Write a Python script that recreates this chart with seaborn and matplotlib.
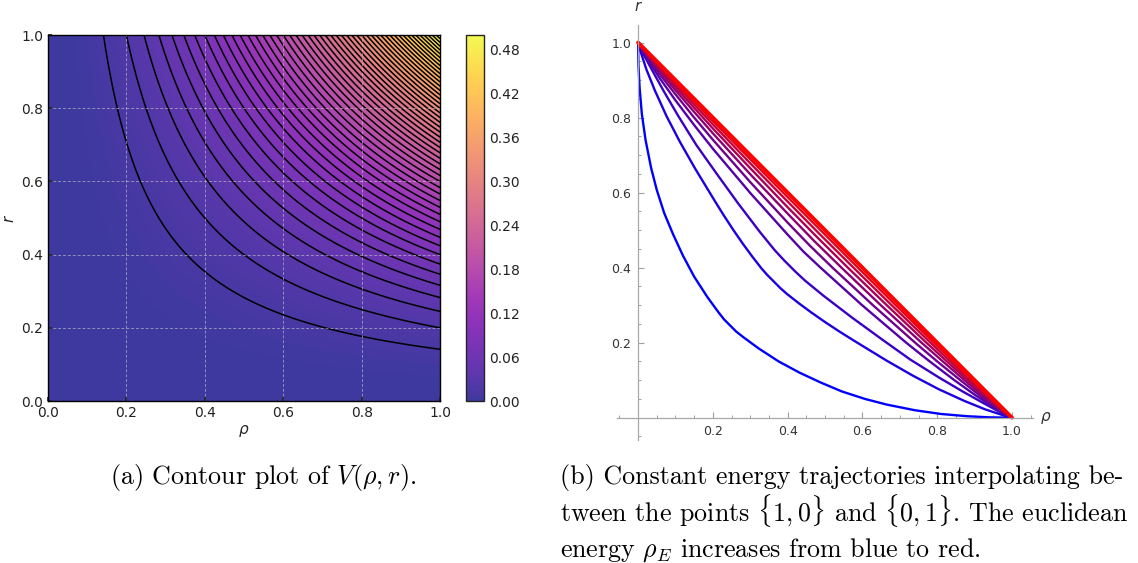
import numpy as np
import pandas as pd
import matplotlib
matplotlib.use('Agg')
import matplotlib.pyplot as plt
from matplotlib.colors import ListedColormap
import seaborn as sns

sns.set_theme(style='ticks')
plt.rcParams['font.family'] = ['DejaVu Sans']
plt.rcParams['mathtext.fontset'] = 'dejavusans'

# (a) potential V(rho, r) on the unit square
rho_axis = np.linspace(0, 1, 401)
r_axis = np.linspace(0, 1, 401)
fill_levels = np.linspace(0, 0.5, 201)
line_levels = np.arange(0.01, 0.495, 0.01)
cbar_ticks = [0.00, 0.06, 0.12, 0.18, 0.24, 0.30, 0.36, 0.42, 0.48]
grid_ticks = [0.0, 0.2, 0.4, 0.6, 0.8, 1.0]

# (b) constant energy trajectories, read off the picture from {0,1}
# down to where each one crosses rho = r (the curves are symmetric)
traj1_rho = [0, 0.001, 0.004, 0.01, 0.02, 0.035, 0.05, 0.07, 0.094, 0.12, 0.15, 0.185, 0.215, 0.23]
traj1_r = [1, 0.94, 0.88, 0.81, 0.74, 0.665, 0.607, 0.545, 0.488, 0.432, 0.376, 0.322, 0.281, 0.262]
traj2_rho = [0, 0.006, 0.022, 0.045, 0.076, 0.112, 0.152, 0.205, 0.23, 0.255, 0.28, 0.305, 0.33, 0.345]
traj2_r = [1, 0.978, 0.929, 0.872, 0.804, 0.735, 0.665, 0.578, 0.538, 0.500, 0.464, 0.430, 0.398, 0.381]
traj3_rho = [0, 0.01, 0.036, 0.07, 0.107, 0.155, 0.209, 0.267, 0.325, 0.365, 0.39]
traj3_r = [1, 0.977, 0.929, 0.868, 0.805, 0.728, 0.652, 0.572, 0.496, 0.447, 0.42]
outer_rho = [0, 0.01, 0.03, 0.06, 0.1, 0.15, 0.2, 0.3, 0.4]
traj4_r = [1, 0.981, 0.948, 0.902, 0.846, 0.780, 0.717, 0.599, 0.488]
traj5_r = [1, 0.983, 0.954, 0.913, 0.862, 0.800, 0.741, 0.628, 0.520]
traj6_r = [1, 0.985, 0.959, 0.921, 0.873, 0.815, 0.758, 0.649, 0.544]
traj7_r = [1, 0.987, 0.962, 0.927, 0.881, 0.826, 0.771, 0.665, 0.561]
traj8_r = [1, 0.988, 0.965, 0.932, 0.888, 0.835, 0.782, 0.678, 0.576]
traj9_r = [1, 0.989, 0.968, 0.936, 0.894, 0.843, 0.791, 0.689, 0.588]
traj10_r = [1, 0.99, 0.97, 0.94, 0.9, 0.85, 0.8, 0.7, 0.6]
# where each trajectory meets the diagonal rho = r
crossings = [0.246, 0.363, 0.405, 0.4425, 0.459, 0.471, 0.48, 0.4875, 0.494, 0.5]

halves = [(traj1_rho, traj1_r), (traj2_rho, traj2_r), (traj3_rho, traj3_r),
          (outer_rho, traj4_r), (outer_rho, traj5_r), (outer_rho, traj6_r),
          (outer_rho, traj7_r), (outer_rho, traj8_r), (outer_rho, traj9_r),
          (outer_rho, traj10_r)]

rows = []
for k, ((hr, hy), t) in enumerate(zip(halves, crossings)):
    xs = list(hr) + [t] + list(hy)[::-1]
    ys = list(hy) + [t] + list(hr)[::-1]
    for i, (x, y) in enumerate(zip(xs, ys)):
        rows.append({'curve': k, 'order': i, 'rho': x, 'r': y})
traj = pd.DataFrame(rows)

n = len(crossings)
blend = [(k / (n - 1), 0.0, 1 - k / (n - 1)) for k in range(n)]

# plasma seen at 80% opacity over white
soft_plasma = ListedColormap(plt.get_cmap('plasma')(np.linspace(0, 1, 256))[:, :3] * 0.8 + 0.2)

fig = plt.figure(figsize=(11.38, 5.63), dpi=100)

# ---- left panel
ax = fig.add_axes([0.0422, 0.2877, 0.3445, 0.650])
P, R = np.meshgrid(rho_axis, r_axis)
V = 0.5 * (P * R) ** 2
cf = ax.contourf(P, R, V, levels=fill_levels, cmap=soft_plasma)
ax.contour(P, R, V, levels=line_levels, colors='black', linewidths=1.1)
ax.set_xlim(0, 1)
ax.set_ylim(0, 1)
ax.set_xticks(grid_ticks)
ax.set_yticks(grid_ticks)
ax.grid(True, color='#c8c8c8', ls=(0, (3, 2)), lw=0.7, alpha=0.6)
ax.set_axisbelow(False)
ax.tick_params(direction='in', labelsize=10, labelcolor='#222222', length=3)
ax.set_xlabel(r'$\rho$', fontsize=11, labelpad=2)
ax.set_ylabel(r'$r$', fontsize=11, labelpad=3)
for s in ax.spines.values():
    s.set_linewidth(1.0)
    s.set_color('black')
    s.set_zorder(4)

cax = fig.add_axes([0.4095, 0.2877, 0.0158, 0.650])
cb = fig.colorbar(cf, cax=cax, ticks=cbar_ticks)
cb.ax.set_yticklabels(['%.2f' % v for v in cbar_ticks])
cb.ax.tick_params(direction='in', labelsize=10, labelcolor='#222222', length=3, pad=4)
cb.outline.set_linewidth(1.0)

# ---- right panel, Mathematica-like axes through the origin
ax2 = fig.add_axes([0.541, 0.2114, 0.368, 0.753])
for k in range(n):
    sub = traj[traj['curve'] == k]
    sns.lineplot(data=sub, x='rho', y='r', sort=False, estimator=None,
                 color=blend[k], lw=2.8 if k == n - 1 else 1.7, ax=ax2)
ax2.set_xlim(-0.06, 1.06)
ax2.set_ylim(-0.07, 1.06)
ax2.set_xlabel('')
ax2.set_ylabel('')
for s in ['top', 'right']:
    ax2.spines[s].set_visible(False)
ax2.spines['left'].set_position(('data', 0))
ax2.spines['bottom'].set_position(('data', 0))
ax2.spines['bottom'].set_bounds(-0.056, 1.056)
ax2.spines['left'].set_bounds(-0.059, 1.048)
for s in ['left', 'bottom']:
    ax2.spines[s].set_color('#a8a8a8')
    ax2.spines[s].set_linewidth(0.9)
major = [0.2, 0.4, 0.6, 0.8, 1.0]
minor = [-0.05, 0.05, 0.1, 0.15, 0.25, 0.3, 0.35, 0.45, 0.5, 0.55,
         0.65, 0.7, 0.75, 0.85, 0.9, 0.95, 1.05]
ax2.set_xticks(major)
ax2.set_yticks(major)
ax2.set_xticks(minor, minor=True)
ax2.set_yticks([m for m in minor if m < 1.04], minor=True)
ax2.set_xticklabels(['0.2', '0.4', '0.6', '0.8', '1.0'])
ax2.set_yticklabels(['0.2', '0.4', '0.6', '0.8', '1.0'])
ax2.tick_params(which='major', direction='in', length=4.5, width=0.8,
                color='#a0a0a0', labelsize=9, labelcolor='#333333', pad=5)
ax2.tick_params(which='minor', direction='in', length=2.5, width=0.7,
                color='#a0a0a0')
ax2.text(1.075, 0.0, r'$\rho$', fontsize=11, ha='left', va='center', color='#333333')
ax2.text(0.0, 1.095, r'$r$', fontsize=11, ha='center', va='center', color='#333333')

# ---- captions
cap = dict(fontsize=18.7, family='cmr10', math_fontfamily='cm', color='black',
           va='baseline', ha='left')
fig.text(110 / 1138, 1 - 484 / 563, r'(a) Contour plot of $V(\rho, r)$.', **cap)
fig.text(560 / 1138, 1 - 484 / 563,
         '(b) Constant energy trajectories interpolating be-', **cap)
fig.text(560 / 1138, 1 - 521 / 563,
         r'tween the points $\{1, 0\}$ and $\{0, 1\}$. The euclidean', **cap)
fig.text(560 / 1138, 1 - 557 / 563,
         r'energy $\rho_E$ increases from blue to red.', **cap)

fig.savefig('out.png', dpi=100)
